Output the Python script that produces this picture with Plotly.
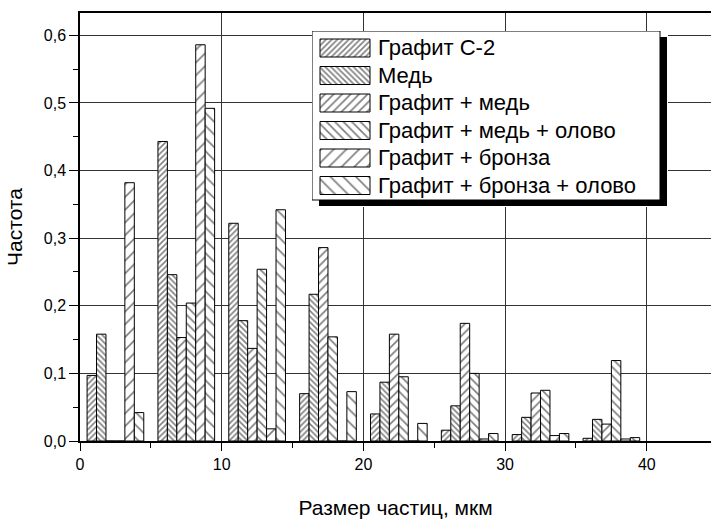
import plotly.graph_objects as go

# Particle-size bins (bin centres, µm)
sizes = [2.5, 7.5, 12.5, 17.5, 22.5, 27.5, 32.5, 37.5]

series_names = [
    "Графит С-2",
    "Медь",
    "Графит + медь",
    "Графит + медь + олово",
    "Графит + бронза",
    "Графит + бронза + олово",
]

grafit_c2 = [0.097, 0.443, 0.322, 0.070, 0.040, 0.016, 0.0095, 0.004]
med = [0.158, 0.246, 0.178, 0.217, 0.087, 0.052, 0.035, 0.032]
grafit_med = [0.0, 0.153, 0.137, 0.286, 0.158, 0.174, 0.071, 0.025]
grafit_med_olovo = [0.0, 0.204, 0.254, 0.154, 0.095, 0.100, 0.075, 0.119]
grafit_bronza = [0.382, 0.586, 0.018, 0.0, 0.0, 0.003, 0.008, 0.003]
grafit_bronza_olovo = [0.042, 0.492, 0.342, 0.073, 0.026, 0.011, 0.011, 0.005]

values = [grafit_c2, med, grafit_med, grafit_med_olovo, grafit_bronza, grafit_bronza_olovo]

pat_shapes = ["/", "\\", "/", "\\", "/", "\\"]
pat_sizes = [4, 4, 6, 6, 9, 9]
pat_solid = [0.4, 0.4, 0.28, 0.28, 0.18, 0.18]

FONT = "Arial, Liberation Sans, sans-serif"

fig = go.Figure()
for name, vals, sh, sz, so in zip(series_names, values, pat_shapes, pat_sizes, pat_solid):
    fig.add_trace(go.Bar(
        x=sizes, y=vals, name=name, showlegend=False,
        marker=dict(color="white",
                    line=dict(color="black", width=1),
                    pattern=dict(shape=sh, size=sz, solidity=so,
                                 fgcolor="black", bgcolor="white", fillmode="overlay")),
    ))

# ---- Legend drawn in an auxiliary (hidden) subplot whose axes are in pixel units ----
W, H = 711, 520
ML, MR, MT, MB = 80, 0, 13, 79
PW, PH = W - ML - MR, H - MT - MB
box_l, box_r, box_t, box_b = 312, 668, 31, 207  # legend region incl. shadow (px)

row_y = [48, 75.5, 103, 130.5, 158, 185.5]
fig.add_trace(go.Bar(
    y=row_y, x=[50] * 6, base=[320] * 6, width=[18] * 6, orientation="h",
    xaxis="x2", yaxis="y2", showlegend=False, hoverinfo="skip",
    marker=dict(color="white", line=dict(color="black", width=1),
                pattern=dict(shape=pat_shapes, size=pat_sizes, solidity=pat_solid,
                             fgcolor="black", bgcolor="white", fillmode="overlay")),
))

annotations = [
    dict(xref="x2", yref="y2", x=376, y=yy, text=nm, showarrow=False,
         xanchor="left", yanchor="middle", font=dict(family=FONT, size=22, color="black"))
    for nm, yy in zip(series_names, row_y)
]

shapes = [
    dict(type="rect", xref="x2", yref="y2", x0=319, x1=667, y0=37, y1=206,
         fillcolor="black", line=dict(width=0), layer="below"),
    dict(type="rect", xref="x2", yref="y2", x0=312, x1=660, y0=31, y1=200,
         fillcolor="white", line=dict(color="black", width=1), layer="below"),
]

fig.update_layout(
    width=W, height=H,
    margin=dict(l=ML, r=MR, t=MT, b=MB),
    paper_bgcolor="white", plot_bgcolor="white",
    barmode="group", bargap=0.2, bargroupgap=0,
    separators=", ",
    font=dict(family=FONT, size=16, color="black"),
    showlegend=False,
    annotations=annotations,
    shapes=shapes,
    xaxis=dict(
        range=[0, 44.53], tick0=0, dtick=10, tickformat="d",
        showline=True, linecolor="black", linewidth=1.5, mirror=True,
        ticks="outside", ticklen=8, tickwidth=1.2, tickcolor="black",
        showgrid=True, gridcolor="#333", gridwidth=1,
        minor=dict(dtick=5, ticks="outside", ticklen=5, tickcolor="black", showgrid=False),
        zeroline=False,
        tickfont=dict(size=16),
        title=dict(text="Размер частиц, мкм", font=dict(size=21), standoff=28),
    ),
    yaxis=dict(
        range=[0, 0.633], tick0=0, dtick=0.1, tickformat=".1f",
        showline=True, linecolor="black", linewidth=1.5, mirror=False,
        ticks="outside", ticklen=9, tickwidth=1.2, tickcolor="black",
        showgrid=True, gridcolor="#333", gridwidth=1,
        minor=dict(dtick=0.05, ticks="outside", ticklen=5, tickcolor="black", showgrid=False),
        zeroline=False,
        tickfont=dict(size=16),
        title=dict(text="Частота", font=dict(size=21), standoff=15),
    ),
    xaxis2=dict(domain=[(box_l - ML) / PW, (box_r - ML) / PW], range=[box_l, box_r],
                anchor="y2", visible=False, fixedrange=True),
    yaxis2=dict(domain=[(H - MB - box_b) / PH, (H - MB - box_t) / PH], range=[box_b, box_t],
                anchor="x2", visible=False, fixedrange=True),
)

fig.write_html("out.html", config={"displayModeBar": False},
               post_script="document.body.style.margin='0';")
